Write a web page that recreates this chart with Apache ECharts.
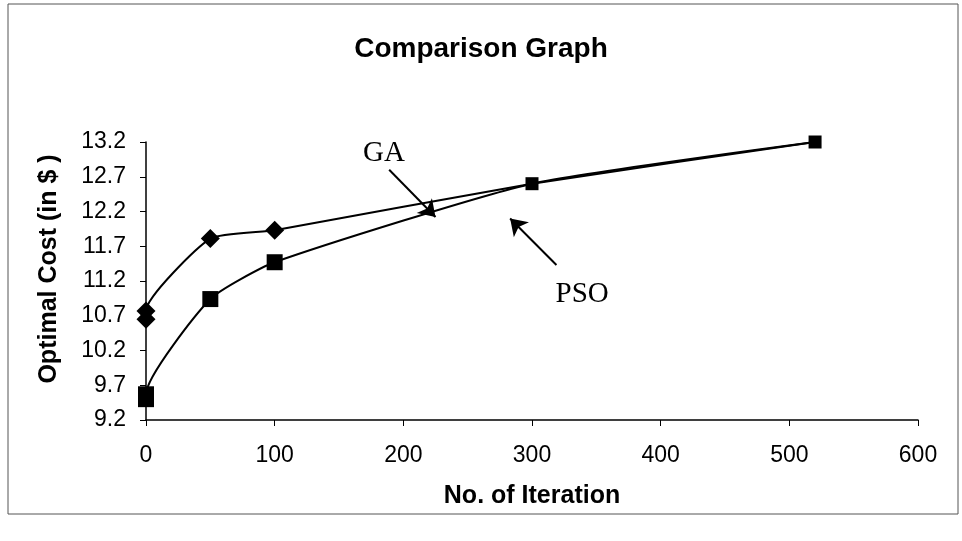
<!DOCTYPE html>
<html>

<head>
    <meta charset="utf-8">
    <title>Comparison Graph</title>
    <script type="text/javascript" src="https://cdn.jsdelivr.net/npm/echarts@6/dist/echarts.min.js"></script>
    <style>
        html,
        body {
            margin: 0;
            padding: 0;
            background: #fff;
        }

        #app {
            width: 962px;
            height: 541px;
        }
    </style>
</head>

<body>
    <div id="app"></div>
</body>
<script type="text/javascript">
    // data
    var gaIter = [0, 0, 50, 100, 300, 520];
    var gaCost = [10.65, 10.77, 11.81, 11.93, 12.6, 13.2];
    var psoIter = [0, 0, 50, 100, 300, 520];
    var psoCost = [9.5, 9.57, 10.94, 11.47, 12.6, 13.2];
    var xTicks = [0, 100, 200, 300, 400, 500, 600];
    var yTicks = ['9.2', '9.7', '10.2', '10.7', '11.2', '11.7', '12.2', '12.7', '13.2'];

    // annotation text and arrows (iteration, cost)
    var gaLabelAt = [185, 13.04];
    var gaArrow = [[189, 12.8], [225, 12.12]];
    var psoLabelAt = [339, 11.01];
    var psoArrow = [[319, 11.43], [283, 12.1]];

    // y axis starts at 9.2, ticks every 0.5 -> plot offsets from base
    var yBase = 9.2;
    var yStep = 0.5;

    function pts(xs, ys) {
        return xs.map(function (x, i) {
            return [x, +(ys[i] - yBase).toFixed(4)];
        });
    }

    function at(p) {
        return [p[0], +(p[1] - yBase).toFixed(4)];
    }

    // the two last markers are drawn smaller in the original
    function markSize(big, small) {
        return function (v, p) {
            return p.dataIndex >= 4 ? small : big;
        };
    }

    var option = {
        animation: false,
        title: {
            text: 'Comparison Graph',
            left: 'center',
            top: 30,
            textStyle: {
                fontFamily: 'Liberation Sans',
                fontSize: 28,
                fontWeight: 'bold',
                color: '#000'
            }
        },
        graphic: [{
            type: 'rect',
            shape: { x: 8, y: 4, width: 950, height: 510 },
            style: { fill: 'none', stroke: '#555', lineWidth: 1 },
            silent: true
        }],
        grid: {
            left: 146,
            right: 44,
            top: 142,
            bottom: 121
        },
        xAxis: {
            type: 'value',
            min: xTicks[0],
            max: xTicks[xTicks.length - 1],
            interval: 100,
            name: 'No. of Iteration',
            nameLocation: 'middle',
            nameGap: 64,
            nameTextStyle: {
                fontFamily: 'Liberation Sans',
                fontSize: 25,
                fontWeight: 'bold',
                color: '#000'
            },
            axisLine: { lineStyle: { color: '#000', width: 1.5 } },
            axisTick: { show: true, length: 6, lineStyle: { color: '#000' } },
            axisLabel: {
                margin: 24,
                fontFamily: 'Liberation Sans',
                fontSize: 23,
                color: '#000'
            },
            splitLine: { show: false }
        },
        yAxis: {
            type: 'value',
            min: 0,
            max: (yTicks.length - 1) * yStep,
            interval: yStep,
            name: 'Optimal Cost (in $ )',
            nameLocation: 'middle',
            nameGap: 84,
            nameTextStyle: {
                fontFamily: 'Liberation Sans',
                fontSize: 25,
                fontWeight: 'bold',
                color: '#000',
                padding: [0, 0, 0, 24]
            },
            axisLine: { show: true, lineStyle: { color: '#000', width: 1.5 } },
            axisTick: { show: true, length: 6, lineStyle: { color: '#000' } },
            axisLabel: {
                margin: 20,
                fontFamily: 'Liberation Sans',
                fontSize: 23,
                color: '#000',
                formatter: function (v) {
                    return yTicks[Math.round(v / yStep)];
                }
            },
            splitLine: { show: false }
        },
        series: [{
            name: 'GA',
            type: 'line',
            smooth: 0.18,
            data: pts(gaIter, gaCost),
            symbol: 'diamond',
            symbolSize: markSize(19, 11),
            lineStyle: { color: '#000', width: 2 },
            itemStyle: { color: '#000' },
            z: 3,
            markPoint: {
                symbol: 'circle',
                symbolSize: 1,
                itemStyle: { color: 'transparent' },
                label: {
                    show: true,
                    position: 'inside',
                    formatter: 'GA',
                    fontFamily: 'Liberation Serif',
                    fontSize: 29,
                    color: '#000'
                },
                data: [{ coord: at(gaLabelAt) }]
            },
            markLine: {
                silent: true,
                symbol: ['none', 'arrow'],
                symbolSize: 16,
                label: { show: false },
                lineStyle: { color: '#000', width: 2, type: 'solid' },
                data: [[{ coord: at(gaArrow[0]) }, { coord: at(gaArrow[1]) }]]
            }
        }, {
            name: 'PSO',
            type: 'line',
            smooth: 0.18,
            data: pts(psoIter, psoCost),
            symbol: 'rect',
            symbolSize: markSize(16, 13),
            lineStyle: { color: '#000', width: 2 },
            itemStyle: { color: '#000' },
            z: 4,
            markPoint: {
                symbol: 'circle',
                symbolSize: 1,
                itemStyle: { color: 'transparent' },
                label: {
                    show: true,
                    position: 'inside',
                    formatter: 'PSO',
                    fontFamily: 'Liberation Serif',
                    fontSize: 29,
                    color: '#000'
                },
                data: [{ coord: at(psoLabelAt) }]
            },
            markLine: {
                silent: true,
                symbol: ['none', 'arrow'],
                symbolSize: 16,
                label: { show: false },
                lineStyle: { color: '#000', width: 2, type: 'solid' },
                data: [[{ coord: at(psoArrow[0]) }, { coord: at(psoArrow[1]) }]]
            }
        }]
    };

    var myChart = echarts.init(document.getElementById('app'));
    myChart.setOption(option);
</script>

</html>
